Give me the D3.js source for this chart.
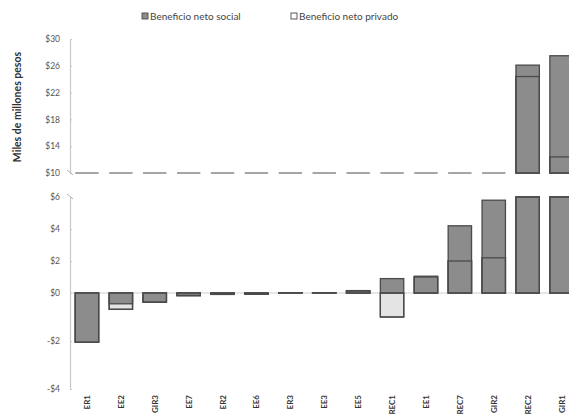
<!DOCTYPE html>
<html>
<head>
<meta charset="utf-8">
<script src="https://cdn.jsdelivr.net/npm/d3@7"></script>
<style>
  html, body { margin: 0; padding: 0; background: #fff; }
  svg { display: block; font-family: Lato, "Open Sans", sans-serif; }
</style>
</head>
<body>
<svg id="chart" width="569" height="416"></svg>
<script>
// Proyectos evaluados (miles de millones de pesos)
const categories = ["ER1", "EE2", "GIR3", "EE7", "ER2", "EE6", "ER3", "EE3", "EE5", "REC1", "EE1", "REC7", "GIR2", "REC2", "GIR1"];
const socialValues = [-2.05, -0.45, -0.38, -0.12, -0.06, -0.05, 0.02, 0.02, 0.15, 0.9, 1.05, 4.2, 5.8, 26.1, 27.5];
const privateValues = [-2.05, -0.68, -0.38, -0.1, -0.05, -0.05, 0.02, 0.02, 0.12, -1.0, 1.0, 2.0, 2.2, 24.4, 12.4];
const seriesNames = ["Beneficio neto social", "Beneficio neto privado"];
const topTicks = [10, 14, 18, 22, 26, 30];
const bottomTicks = [-4, -2, 0, 2, 4, 6];

const svg = d3.select("#chart");
const socialFill = "#8c8c8c", privateFill = "#e4e4e4", barStroke = "#4a4a4a";
const axisColor = "#c8c8c8", tickText = "#555";

const x = d3.scaleBand().domain(categories).range([70, 578.5]).paddingInner(0.31).paddingOuter(0.155);

// Eje superior (tramo alto) y eje inferior con escala distinta para negativos
const yTop = d3.scaleLinear().domain([10, 30]).range([173, 39]).clamp(true);
const yBot = d3.scaleLinear().domain([-4, 0, 6]).range([389, 293, 197]).clamp(true);

const fmt = d => (d < 0 ? "-" : "") + "$" + Math.abs(d);

function drawAxis(scale, ticks) {
  const g = svg.append("g").attr("transform", "translate(70,0)")
    .call(d3.axisLeft(scale).tickValues(ticks).tickFormat(fmt).tickSizeInner(-2).tickSizeOuter(0).tickPadding(10));
  g.select(".domain").attr("stroke", axisColor).attr("stroke-width", 1.2);
  g.selectAll(".tick line").attr("stroke", axisColor);
  g.selectAll(".tick text").attr("fill", tickText).style("font-size", "8.5px").style("font-family", "Lato, sans-serif");
  return g;
}
drawAxis(yTop, topTicks);
drawAxis(yBot, bottomTicks);

// Marcas de corte del eje
[yTop(10), yBot(6)].forEach(yy => {
  svg.append("line").attr("x1", 67).attr("y1", yy - 3).attr("x2", 73).attr("y2", yy + 2)
    .attr("stroke", "#b0b0b0").attr("stroke-width", 1);
});

// Línea de cero
svg.append("line").attr("x1", 70).attr("x2", 569).attr("y1", yBot(0)).attr("y2", yBot(0))
  .attr("stroke", "#cfcfcf").attr("stroke-width", 1.2);

const rows = categories.map((c, i) => ({ c, s: socialValues[i], p: privateValues[i] }));

// Línea discontinua del corte: un trazo por proyecto sin barra en el tramo alto
svg.append("g").selectAll("line").data(rows.filter(d => d.s < 10)).join("line")
  .attr("x1", d => x(d.c)).attr("x2", d => x(d.c) + x.bandwidth())
  .attr("y1", yTop(10)).attr("y2", yTop(10))
  .attr("stroke", "#a6a6a6").attr("stroke-width", 2);

function rectFor(scale, base, v) {
  const a = scale(base), b = scale(v);
  return { y: Math.min(a, b), h: Math.abs(a - b) };
}

function drawBars(scale, base, rowsIn) {
  const g = svg.append("g");
  // privado (fondo claro)
  g.selectAll(".pv").data(rowsIn).join("rect")
    .attr("x", d => x(d.c)).attr("width", x.bandwidth())
    .attr("y", d => rectFor(scale, base, d.p).y).attr("height", d => rectFor(scale, base, d.p).h)
    .attr("fill", privateFill).attr("stroke", barStroke).attr("stroke-width", 1.3);
  // social
  g.selectAll(".sc").data(rowsIn).join("rect")
    .attr("x", d => x(d.c)).attr("width", x.bandwidth())
    .attr("y", d => rectFor(scale, base, d.s).y).attr("height", d => rectFor(scale, base, d.s).h)
    .attr("fill", socialFill).attr("stroke", barStroke).attr("stroke-width", 1.3);
  // contorno del privado encima
  g.selectAll(".po").data(rowsIn).join("rect")
    .attr("x", d => x(d.c)).attr("width", x.bandwidth())
    .attr("y", d => rectFor(scale, base, d.p).y).attr("height", d => rectFor(scale, base, d.p).h)
    .attr("fill", "none").attr("stroke", barStroke).attr("stroke-width", 1.3);
}
drawBars(yBot, 0, rows);
drawBars(yTop, 10, rows.filter(d => d.s > 10));

// Etiquetas de categorías (verticales)
svg.append("g").selectAll("text").data(categories).join("text")
  .attr("transform", d => `translate(${x(d) + x.bandwidth() / 2 + 3},395) rotate(-90)`)
  .attr("text-anchor", "end")
  .attr("fill", "#333").style("font-size", "8px").style("font-weight", "bold")
  .text(d => d);

// Título del eje Y
svg.append("text")
  .attr("transform", "translate(21,107) rotate(-90)")
  .attr("text-anchor", "middle")
  .attr("fill", "#333").style("font-size", "10.5px").style("font-weight", "bold")
  .text("Miles de millones pesos");

// Leyenda
const legend = svg.append("g");
const legendItems = [
  { name: seriesNames[0], fill: socialFill, x: 142 },
  { name: seriesNames[1], fill: "#fff", x: 291 }
];
legendItems.forEach(it => {
  legend.append("rect").attr("x", it.x).attr("y", 13).attr("width", 6).attr("height", 6)
    .attr("fill", it.fill).attr("stroke", barStroke).attr("stroke-width", 0.9);
  legend.append("text").attr("x", it.x + 8).attr("y", 20)
    .attr("fill", "#444").style("font-size", "10px").text(it.name);
});
</script>
</body>
</html>
